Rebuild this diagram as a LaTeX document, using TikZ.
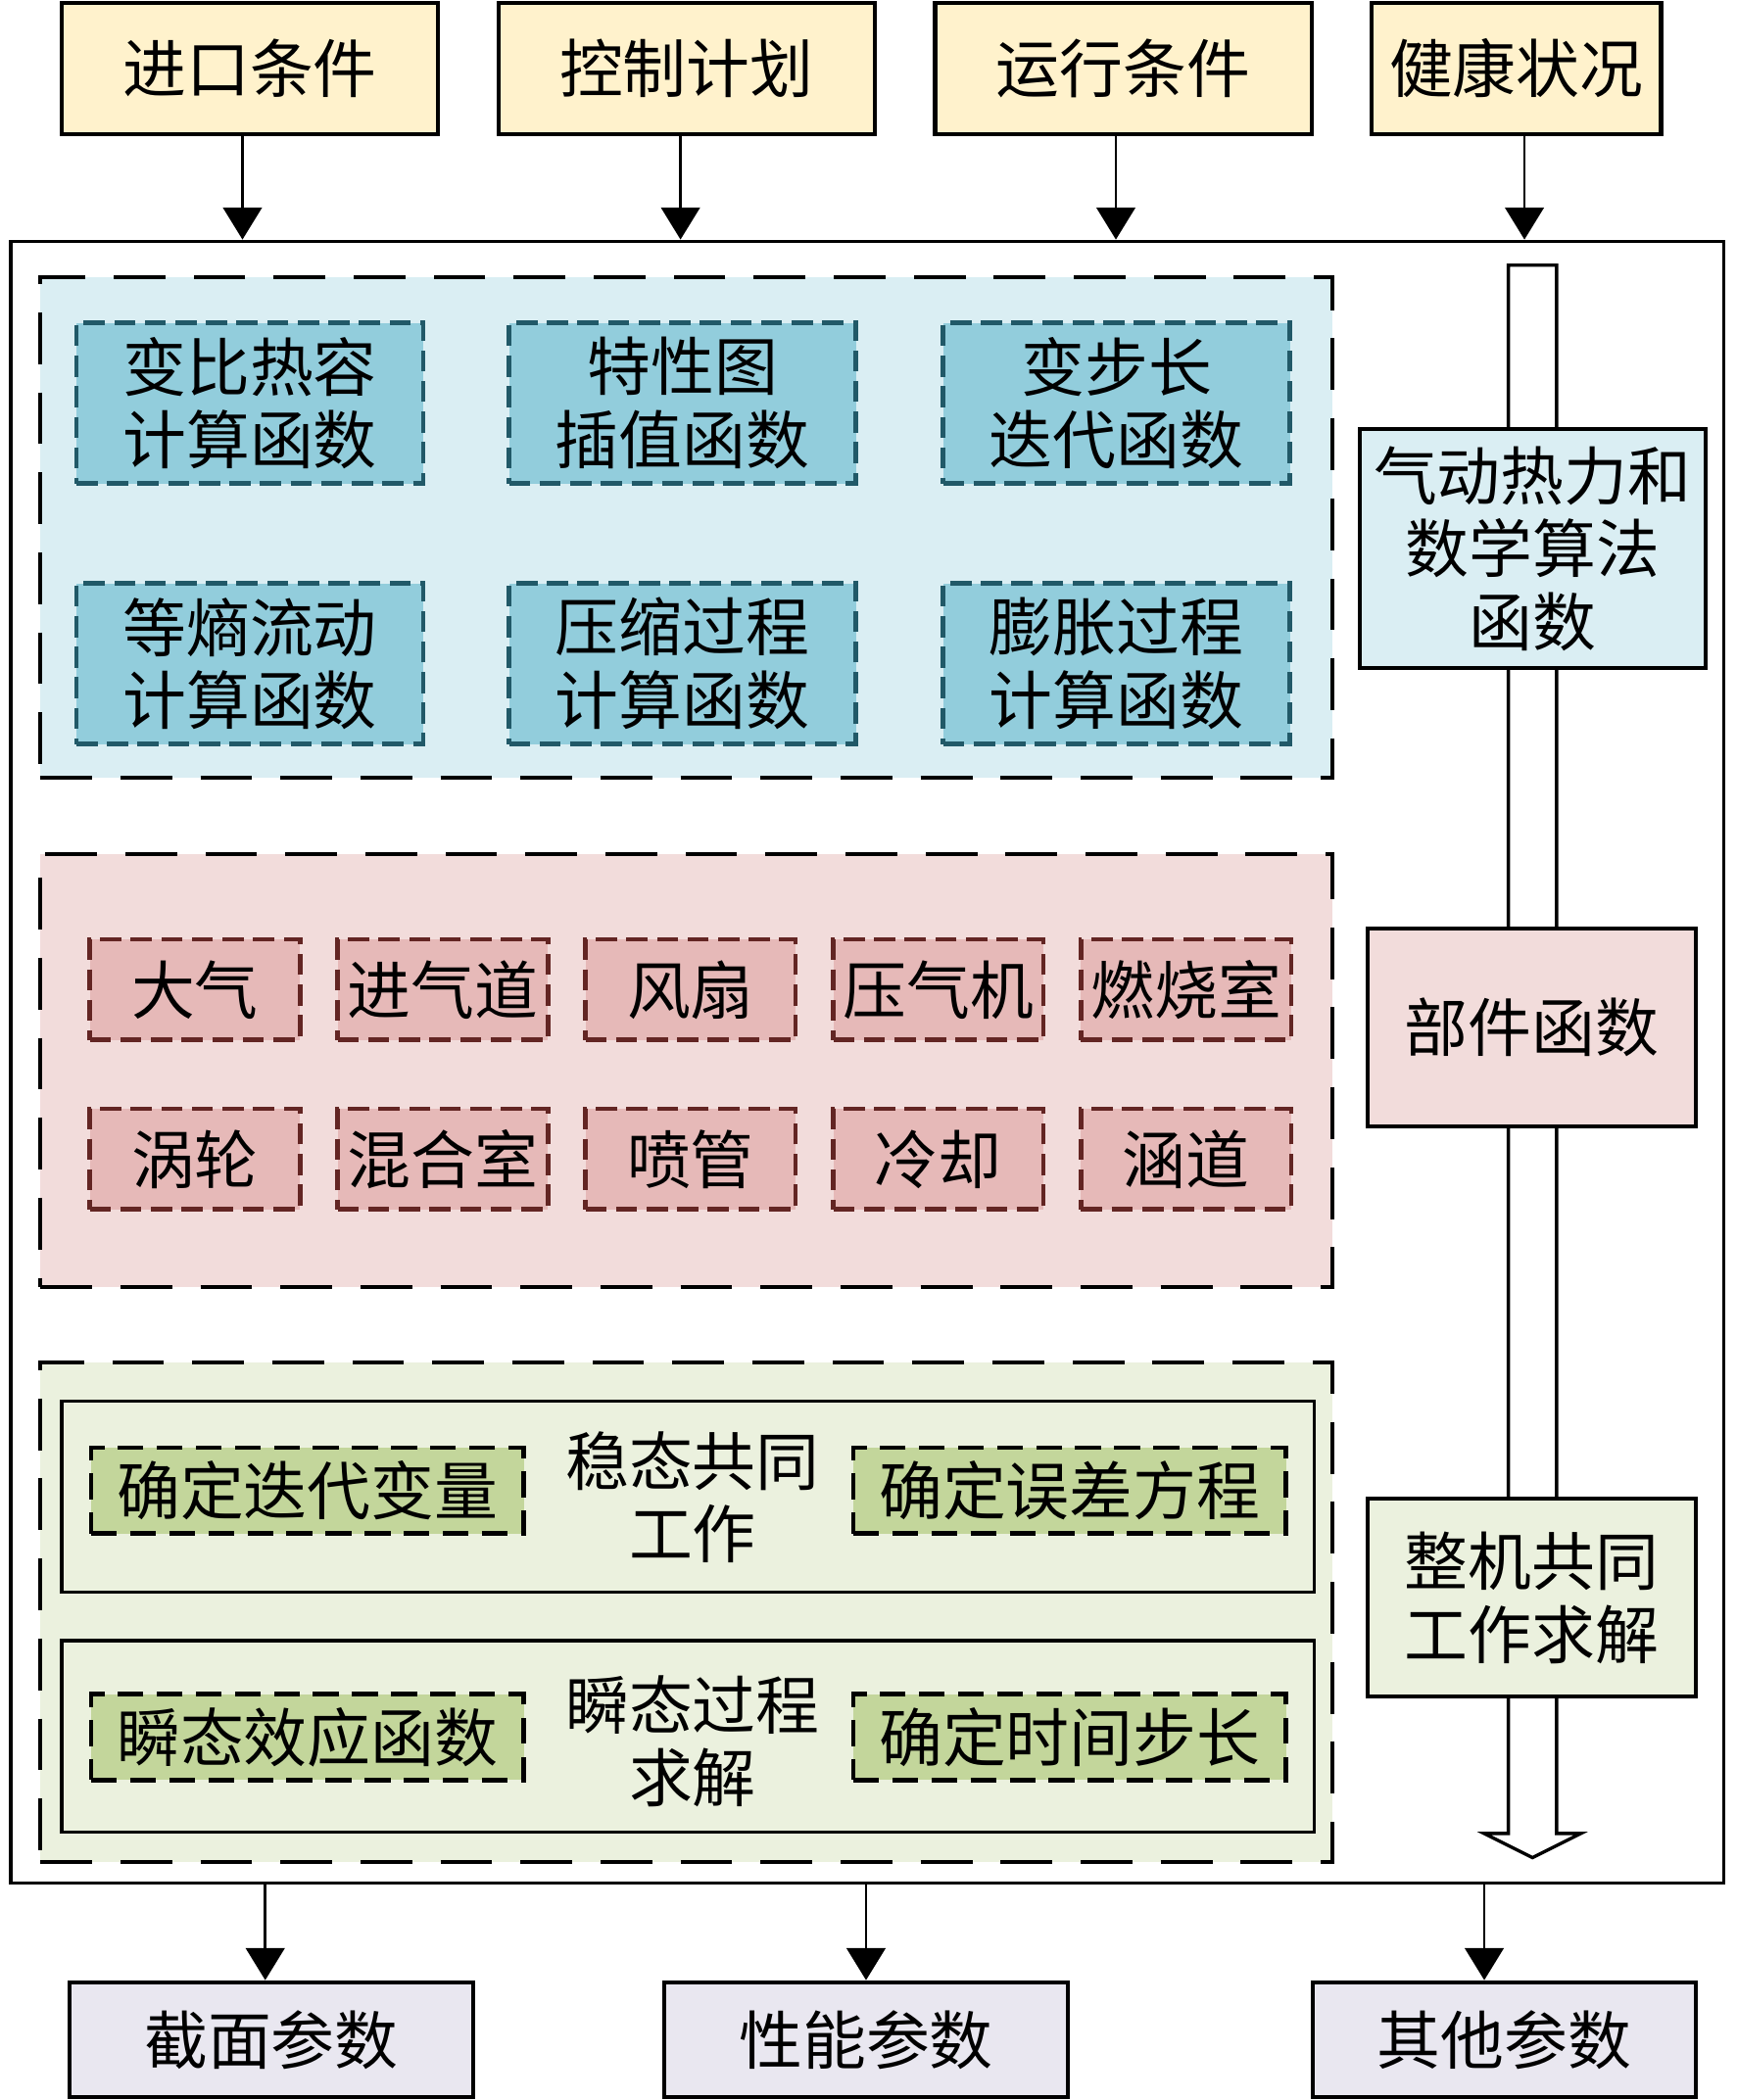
\documentclass[tikz,border=0pt]{standalone}
\usepackage{fontspec}
\newfontfamily\cjk{Noto Sans CJK SC}
\usetikzlibrary{arrows.meta}

\definecolor{inyellow}{HTML}{FFF2CC}
\definecolor{lightblue}{HTML}{DAEEF3}
\definecolor{midblue}{HTML}{92CDDC}
\definecolor{darkteal}{HTML}{215968}
\definecolor{lightpink}{HTML}{F2DCDB}
\definecolor{midpink}{HTML}{E6B9B8}
\definecolor{darkred}{HTML}{632523}
\definecolor{lightgreen}{HTML}{EBF1DE}
\definecolor{midgreen}{HTML}{C3D69B}
\definecolor{outgrey}{HTML}{E9E7F0}

\tikzset{
  txt/.style={font=\cjk\fontsize{27}{31}\selectfont, align=center, inner sep=2pt},
  solidbox/.style={txt, draw, line width=1.7pt, minimum height=1.96cm},
  region/.style={draw, line width=1.7pt, dash pattern=on 22pt off 12pt, minimum width=19.3cm},
  funcbox/.style={txt, draw=darkteal, fill=midblue, line width=1.9pt,
    dash pattern=on 9pt off 4pt, minimum width=5.18cm, minimum height=2.4cm},
  partbox/.style={txt, draw=darkred, fill=midpink, line width=1.9pt,
    dash pattern=on 9pt off 4pt, minimum width=3.14cm, minimum height=1.5cm},
  stepbox/.style={txt, draw, fill=midgreen, line width=1.9pt,
    dash pattern=on 11pt off 5.6pt, minimum width=6.46cm, minimum height=1.28cm},
  stagebox/.style={draw, line width=1.4pt, minimum width=18.7cm, minimum height=2.86cm},
  sidebox/.style={txt, draw, line width=1.7pt, minimum width=4.9cm, minimum height=2.96cm},
  flow/.style={line width=1.1pt, -{Triangle[length=0.48cm,width=0.58cm]}}
}

\begin{document}
\begin{tikzpicture}[x=0.02cm, y=-0.02cm]
\useasboundingbox (0,0) rectangle (1296,1568);

%% outer frame
\node[draw, line width=1.4pt, minimum width=25.58cm, minimum height=24.52cm] (frame) at (647.5,793) {};

%% inputs
\node[solidbox, fill=inyellow, minimum width=5.62cm] (inlet)  at (186.5,51) {进口条件};
\node[solidbox, fill=inyellow, minimum width=5.62cm] (ctrl)   at (512.5,51) {控制计划};
\node[solidbox, fill=inyellow, minimum width=5.62cm] (oper)   at (838.5,51) {运行条件};
\node[solidbox, fill=inyellow, minimum width=4.32cm] (health) at (1132,51)  {健康状况};

\foreach \n/\s in {inlet/-0.11,ctrl/-0.09,oper/-0.11,health/0.12}
  \draw[flow] ([xshift=\s cm]\n.south) -- ([xshift=\s cm]\n.south |- frame.north);

%% algorithm functions
\node[region, fill=lightblue, minimum height=7.48cm] (algoreg) at (512.5,394) {};
\node[funcbox] (cp)     at (186.5,301)   {变比热容\\计算函数};
\node[funcbox] (mapint) at (509.5,301)   {特性图\\插值函数};
\node[funcbox] (varstp) at (833.5,301)   {变步长\\迭代函数};
\node[funcbox] (isen)   at (186.5,495.5) {等熵流动\\计算函数};
\node[funcbox] (compr)  at (509.5,495.5) {压缩过程\\计算函数};
\node[funcbox] (expan)  at (833.5,495.5) {膨胀过程\\计算函数};

%% component functions
\node[region, fill=lightpink, minimum height=6.46cm] (partreg) at (512.5,799.5) {};
\node[partbox] (atmo)   at (145.5,739)   {大气};
\node[partbox] (intake) at (330.5,739)   {进气道};
\node[partbox] (fan)    at (515.5,739)   {风扇};
\node[partbox] (comp)   at (700.5,739)   {压气机};
\node[partbox] (burner) at (885.5,739)   {燃烧室};
\node[partbox] (turb)   at (145.5,865.5) {涡轮};
\node[partbox] (mixer)  at (330.5,865.5) {混合室};
\node[partbox] (nozzle) at (515.5,865.5) {喷管};
\node[partbox] (cool)   at (700.5,865.5) {冷却};
\node[partbox] (bypass) at (885.5,865.5) {涵道};

%% engine matching
\node[region, fill=lightgreen, minimum height=7.46cm] (matchreg) at (512.5,1203.5) {};
\node[stagebox] (steady) at (513.5,1117.5) {};
\node[stagebox] (trans)  at (513.5,1296.5) {};
\node[stepbox] (itervar) at (229.5,1113) {确定迭代变量};
\node[stepbox] (erreq)   at (798.5,1113) {确定误差方程};
\node[txt] (steadylbl)   at (517,1118)   {稳态共同\\工作};
\node[stepbox] (transfn) at (229.5,1297) {瞬态效应函数};
\node[stepbox] (timestp) at (798.5,1297) {确定时间步长};
\node[txt] (translbl)    at (517,1300)   {瞬态过程\\求解};

%% hollow arrow on the right
\draw[line width=1.4pt, fill=white] (1126,198) -- (1162,198) -- (1162,1369)
  -- (1180,1369) -- (1144,1387) -- (1108,1369) -- (1126,1369) -- cycle;

\node[sidebox, fill=lightblue, minimum width=5.16cm, minimum height=3.58cm] (algo) at (1144,409.5)
  {气动热力和\\数学算法\\函数};
\node[sidebox, fill=lightpink]  (parts) at (1143.5,767)  {部件函数};
\node[sidebox, fill=lightgreen] (whole) at (1143.5,1193) {整机共同\\工作求解};

%% outputs
\node[solidbox, fill=outgrey, minimum width=6.02cm, minimum height=1.72cm] (secpar)   at (202.5,1523) {截面参数};
\node[solidbox, fill=outgrey, minimum width=6.02cm, minimum height=1.72cm] (perfpar)  at (646.5,1523) {性能参数};
\node[solidbox, fill=outgrey, minimum width=5.72cm, minimum height=1.72cm] (otherpar) at (1123,1523)  {其他参数};

\draw[flow] ([xshift=-0.09cm]secpar.north |- frame.south) -- ([xshift=-0.09cm]secpar.north);
\draw[flow] (perfpar |- frame.south) -- (perfpar);
\draw[flow] ([xshift=-0.3cm]otherpar.north |- frame.south) -- ([xshift=-0.3cm]otherpar.north);

\end{tikzpicture}
\end{document}
